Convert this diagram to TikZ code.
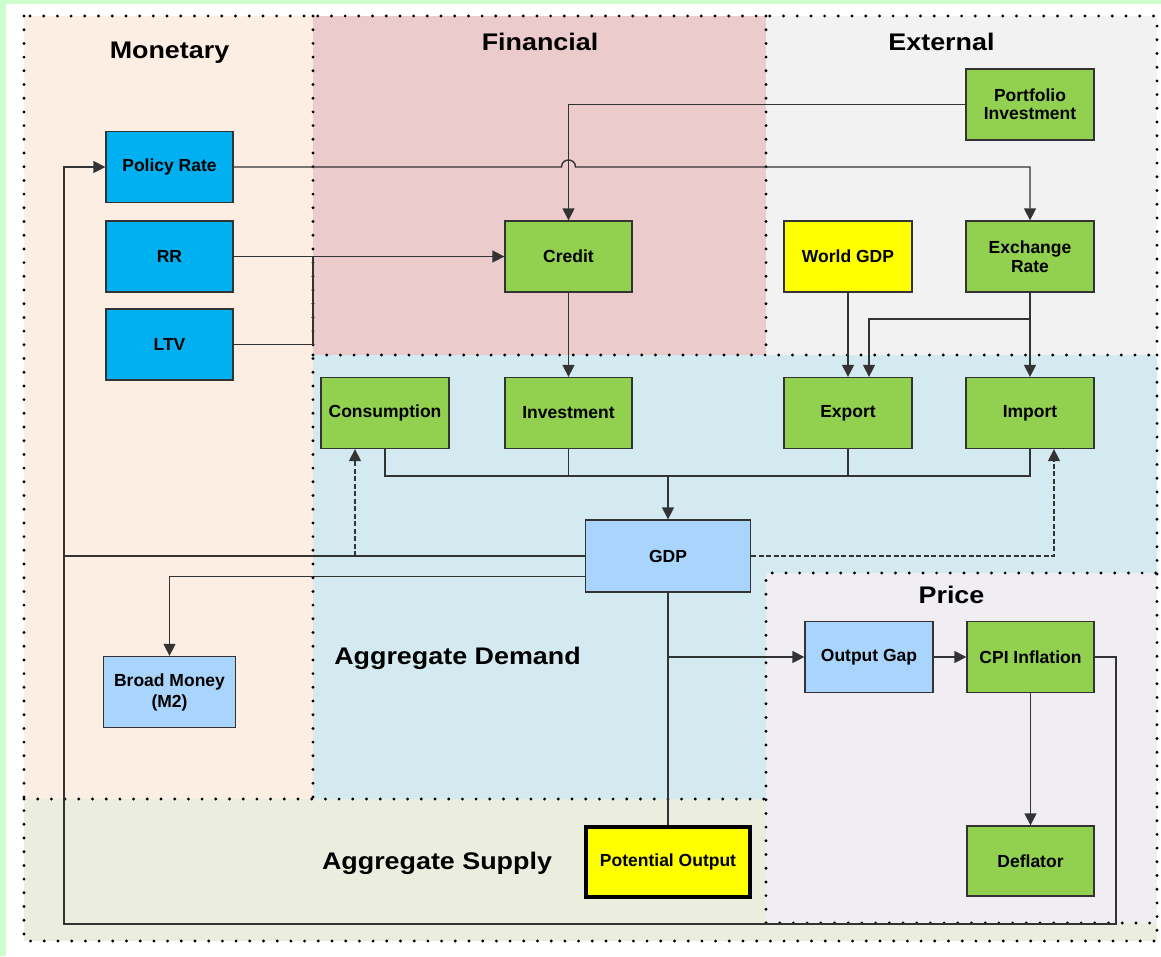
\documentclass[tikz,border=0pt]{standalone}
\usepackage{fontspec}
\setmainfont{Liberation Sans}
\newfontfamily\headfont{Liberation Sans}[FakeStretch=1.12]
\usetikzlibrary{arrows.meta,calc}

\definecolor{frameGreen}{HTML}{CCFFCC}
\definecolor{monFill}{HTML}{FDEEE3}
\definecolor{finFill}{HTML}{EBCBCB}
\definecolor{extFill}{HTML}{F2F2F2}
\definecolor{adFill}{HTML}{D2EAF0}
\definecolor{priceFill}{HTML}{F0EEF3}
\definecolor{asFill}{HTML}{EBEEDF}
\definecolor{policyBlue}{HTML}{00B0F0}
\definecolor{leafGreen}{HTML}{92D050}
\definecolor{sunYellow}{HTML}{FFFF00}
\definecolor{skyBlue}{HTML}{A9D5FC}
\definecolor{wire}{HTML}{333333}

\begin{document}
\begin{tikzpicture}[x=1pt,y=-1pt,
  box/.style={draw=wire, line width=1.3pt, minimum width=127pt, minimum height=71pt,
    inner sep=0pt, align=center, font=\bfseries\fontsize{17.5}{19}\selectfont},
  bluebox/.style={box, fill=policyBlue},
  greenbox/.style={box, fill=leafGreen},
  yellowbox/.style={box, fill=sunYellow},
  lightbox/.style={box, fill=skyBlue},
  heading/.style={anchor=base, font=\headfont\bfseries\fontsize{24}{28}\selectfont},
  zone/.style={draw=black, line width=3.2pt, line cap=round, dash pattern=on 0pt off 13.7pt},
  wireline/.style={draw=wire, line width=1.4pt},
  dashwire/.style={wireline, dash pattern=on 5pt off 2.5pt},
  arr/.style={-{Triangle[length=12pt,width=12pt]}}
]
\useasboundingbox (0,0) rectangle (1161,956);
\fill[white] (0,0) rectangle (1161,956);
\fill[frameGreen] (0,0) rectangle (1161,4);
\fill[frameGreen] (0,0) rectangle (6,956);

% sector backgrounds
\fill[asFill] (24,799) rectangle (1157,941);
\fill[monFill] (24,16) rectangle (313,799);
\fill[finFill] (313,16) rectangle (766,355);
\fill[extFill] (766,16) rectangle (1157,355);
\fill[adFill] (313,355) -- (1157,355) -- (1157,573) -- (766,573) -- (766,799) -- (313,799) -- cycle;
\fill[priceFill] (766,573) rectangle (1157,923);

% sector borders
\draw[zone] (24,16) rectangle (1157,941);
\draw[zone] (313,16) -- (313,799);
\draw[zone] (766,16) -- (766,355);
\draw[zone] (313,355) -- (1157,355);
\draw[zone] (24,799) -- (766,799);
\draw[zone] (766,923) -- (766,573) -- (1157,573);
\draw[zone] (766,923) -- (1157,923);

% sector titles
\node[heading] (tMon) at (169.5,58.5) {Monetary};
\node[heading] (tFin) at (540,50) {Financial};
\node[heading] (tExt) at (941.5,50) {External};
\node[heading] (tPrice) at (951.5,603) {Price};
\node[heading] (tAD) at (457.5,664) {Aggregate Demand};
\node[heading] (tAS) at (437,869) {Aggregate Supply};

% variables
\node[bluebox] (policy) at (169.5,167) {Policy Rate};
\node[bluebox] (rr) at (169.5,256.5) {RR};
\node[bluebox] (ltv) at (169.5,344.5) {LTV};
\node[greenbox] (credit) at (568.5,256.5) {Credit};
\node[greenbox, minimum width=128pt, font=\bfseries\fontsize{17.5}{18}\selectfont] (portfolio) at (1030,104.5) {Portfolio\\Investment};
\node[yellowbox, minimum width=128pt] (worldgdp) at (848,256.5) {World GDP};
\node[greenbox, minimum width=128pt] (exch) at (1030,256.5) {Exchange\\Rate};
\node[greenbox, minimum width=128pt] (cons) at (385,413) {Consumption};
\node[greenbox] (inv) at (568.5,413) {Investment};
\node[greenbox, minimum width=128pt] (export) at (848,413) {Export};
\node[greenbox, minimum width=128pt] (import) at (1030,413) {Import};
\node[lightbox, minimum width=165pt, minimum height=72pt] (gdp) at (668,556) {GDP};
\node[lightbox, minimum width=132pt, font=\bfseries\fontsize{17.5}{21}\selectfont] (m2) at (169.5,692) {Broad Money\\(M2)};
\node[lightbox, minimum width=128pt] (gap) at (869,657) {Output Gap};
\node[greenbox] (cpi) at (1030.5,657) {CPI Inflation};
\node[greenbox, minimum height=70pt] (deflator) at (1030.5,861) {Deflator};
\node[yellowbox, draw=black, line width=3.5pt, minimum width=164pt, minimum height=70pt] (potout) at (668,862) {Potential Output};

% routing points
\coordinate (hopL) at ($(credit.north |- policy.east)+(-7,0)$);
\coordinate (hopR) at ($(credit.north |- policy.east)+(7,0)$);
\coordinate (ltvJoin) at (313,256.5);
\coordinate (exBranch) at (1030,319);
\coordinate (exTip) at ($(export.north)+(21,0)$);
\coordinate (busR) at (1030,476);
\coordinate (loopBR) at (1116,924);
\coordinate (loopBL) at (64,924);
\coordinate (consTip) at ($(cons.south)+(-30,0)$);
\coordinate (importTip) at ($(import.south)+(24,0)$);
\coordinate (m2Start) at ($(gdp.west)+(0,20.5)$);

% monetary and financial links
\draw[wireline,arr] (policy.east) -- (hopL)
  .. controls ($(hopL)+(0,-9.3)$) and ($(hopR)+(0,-9.3)$) .. (hopR) -| (exch.north);
\draw[wireline,arr] (portfolio.west) -| (credit.north);
\draw[wireline,arr] (rr.east) -- (credit.west);
\draw[wireline] (ltv.east) -| (ltvJoin);
\draw[wireline,arr] (credit.south) -- (inv.north);

% external links
\draw[wireline,arr] (worldgdp.south) -- (export.north);
\draw[wireline,arr] (exch.south) -- (import.north);
\draw[wireline,arr] (exBranch) -| (exTip);

% demand components into GDP
\draw[wireline] (cons.south) |- (busR) -- (import.south);
\draw[wireline] (inv.south) -- (inv.south |- busR);
\draw[wireline] (export.south) -- (export.south |- busR);
\draw[wireline,arr] (gdp.north |- busR) -- (gdp.north);

% feedback from GDP and inflation
\draw[wireline,arr] (cpi.east) -| (loopBR) -- (loopBL) |- (policy.west);
\draw[wireline] (gdp.west) -- (gdp.west -| loopBL);
\draw[dashwire,arr] (consTip |- gdp.west) -- (consTip);
\draw[dashwire,arr] (gdp.east) -| (importTip);
\draw[wireline,arr] (m2Start) -| (m2.north);

% supply and prices
\draw[wireline] (gdp.south) -- (potout.north);
\draw[wireline,arr] (gdp.south |- gap.west) -- (gap.west);
\draw[wireline,arr] (gap.east) -- (cpi.west);
\draw[wireline,arr] (cpi.south) -- (deflator.north);
\end{tikzpicture}
\end{document}
